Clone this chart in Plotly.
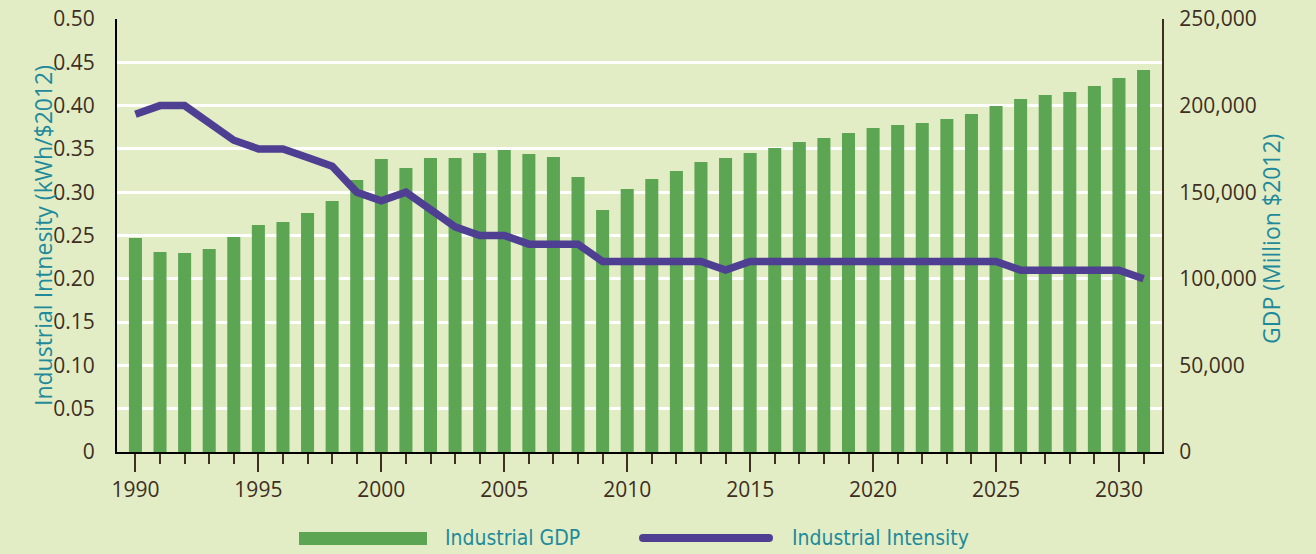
import plotly.graph_objects as go

# ---------------- data ----------------
years = list(range(1990, 2032))
industrial_gdp = [
    123600, 115500, 114900, 117200, 124100, 131000, 132800, 138000, 144900, 157000,
    169200, 164000, 169800, 169800, 172600, 174400, 172100, 170300, 158800, 139700,
    151900, 157600, 162200, 167400, 169800, 172600, 175500, 179000, 181300, 184200,
    187100, 188800, 190000, 192300, 195200, 199800, 203800, 206100, 207900, 211300,
    215900, 220600,
]
industrial_intensity = [
    0.39, 0.40, 0.40, 0.38, 0.36, 0.35, 0.35, 0.34, 0.33, 0.30,
    0.29, 0.30, 0.28, 0.26, 0.25, 0.25, 0.24, 0.24, 0.24, 0.22,
    0.22, 0.22, 0.22, 0.22, 0.21, 0.22, 0.22, 0.22, 0.22, 0.22,
    0.22, 0.22, 0.22, 0.22, 0.22, 0.22, 0.21, 0.21, 0.21, 0.21,
    0.21, 0.20,
]
x_tickvals = [1990, 1995, 2000, 2005, 2010, 2015, 2020, 2025, 2030]
left_tickvals = [0, 0.05, 0.10, 0.15, 0.20, 0.25, 0.30, 0.35, 0.40, 0.45, 0.50]
left_ticktext = ["0", "0.05", "0.10", "0.15", "0.20", "0.25", "0.30", "0.35", "0.40", "0.45", "0.50"]
right_tickvals = [0, 50000, 100000, 150000, 200000, 250000]
right_ticktext = ["0", "50,000", "100,000", "150,000", "200,000", "250,000"]

# ---------------- style ----------------
W, H = 1316, 554
ML, MT = 117, 19
PW, PH = 1045, 433
MR, MB = W - ML - PW, H - MT - PH
BG = "#e2edc5"
GREEN = "#5ba553"
PURPLE = "#4e3f92"
BROWN = "#3f2e22"
TEAL = "#1f8a9b"
TICKFONT = dict(family="Open Sans, sans-serif", size=21, color=BROWN)
TITLEFONT = dict(family="Open Sans, sans-serif", size=23, color=TEAL)
LEGFONT = dict(family="Liberation Sans Narrow, DejaVu Sans Condensed, sans-serif", size=21, color=TEAL)


def px(xs):
    """screen x pixel -> paper coordinate"""
    return (xs - ML) / PW


def py(ys):
    """screen y pixel -> paper coordinate"""
    return (MT + PH - ys) / PH


fig = go.Figure()
fig.add_bar(
    x=years, y=industrial_gdp, yaxis="y", name="Industrial GDP",
    marker=dict(color=GREEN, line_width=0), width=0.53, showlegend=False,
)
fig.add_scatter(
    x=years, y=industrial_intensity, yaxis="y2", name="Industrial Intensity",
    mode="lines", line=dict(color=PURPLE, width=7.5), showlegend=False,
)

fig.update_layout(
    width=W, height=H,
    margin=dict(l=ML, r=MR, t=MT, b=MB, pad=0, autoexpand=False),
    paper_bgcolor=BG, plot_bgcolor=BG,
    xaxis=dict(
        range=[1989.25, 2031.75], tickvals=x_tickvals,
        ticks="outside", ticklen=18, tickwidth=2, tickcolor=BROWN,
        showline=True, linecolor="black", linewidth=2,
        showgrid=False, zeroline=False, tickfont=TICKFONT, automargin=False,
        minor=dict(dtick=1, tick0=1990, ticks="outside", ticklen=10,
                   tickwidth=2, tickcolor=BROWN, showgrid=False),
    ),
    yaxis=dict(
        side="right", range=[0, 250000],
        tickvals=right_tickvals, ticktext=right_ticktext,
        showline=True, linecolor=BROWN, linewidth=2,
        showgrid=False, zeroline=False, ticks="", automargin=False,
        tickfont=TICKFONT, ticklabelstandoff=11, ticklabeloverflow="allow",
    ),
    yaxis2=dict(
        overlaying="y", side="left", anchor="x", range=[0, 0.5],
        tickvals=left_tickvals, ticktext=left_ticktext,
        showline=True, linecolor="black", linewidth=2,
        showgrid=True, gridcolor="white", gridwidth=2.5, automargin=False,
        zeroline=False, ticks="", tickfont=TICKFONT, ticklabelstandoff=16,
        ticklabeloverflow="allow",
    ),
)

# axis titles
fig.add_annotation(
    text="Industrial Intnesity (kWh/$2012)", textangle=-90,
    x=px(43), y=py(236), xref="paper", yref="paper",
    xanchor="center", yanchor="middle", showarrow=False, font=TITLEFONT,
)
fig.add_annotation(
    text="GDP (Million $2012)", textangle=-90,
    x=px(1271), y=py(239), xref="paper", yref="paper",
    xanchor="center", yanchor="middle", showarrow=False, font=TITLEFONT,
)

# legend (drawn manually)
fig.add_shape(type="rect", xref="paper", yref="paper",
              x0=px(299), x1=px(427), y0=py(545), y1=py(532),
              fillcolor=GREEN, line_width=0)
fig.add_annotation(text="Industrial GDP", x=px(443), y=py(538),
                   xref="paper", yref="paper", xanchor="left", yanchor="middle",
                   showarrow=False, font=LEGFONT)
fig.add_shape(type="line", xref="paper", yref="paper",
              x0=px(643), x1=px(769), y0=py(538), y1=py(538),
              line=dict(color=PURPLE, width=8))
for cx in (643, 769):
    fig.add_shape(type="circle", xref="paper", yref="paper",
                  x0=px(cx - 4), x1=px(cx + 4), y0=py(542), y1=py(534),
                  fillcolor=PURPLE, line_width=0)
fig.add_annotation(text="Industrial Intensity", x=px(790), y=py(538),
                   xref="paper", yref="paper", xanchor="left", yanchor="middle",
                   showarrow=False, font=LEGFONT)

# remove the default page margin so the figure fills the window exactly
post = "document.body.style.margin='0';document.body.style.background='%s';" % BG
fig.write_html("out.html", post_script=post, config={"displayModeBar": False})
